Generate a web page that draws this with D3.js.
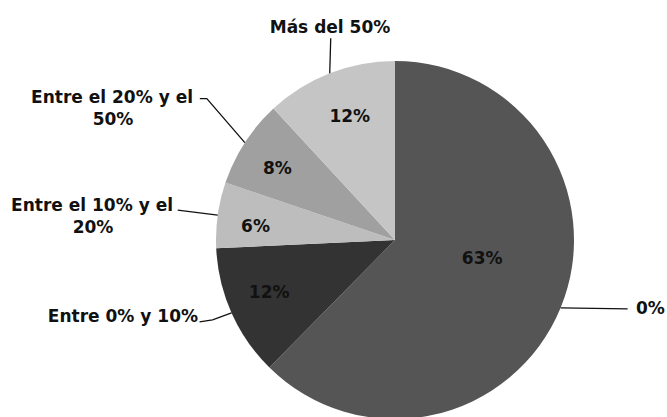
<!DOCTYPE html>
<html><head><meta charset="utf-8">
<script src="https://cdn.jsdelivr.net/npm/d3@7"></script>
<style>body{margin:0;background:#fff}svg{display:block}text{font-family:"DejaVu Sans","Open Sans",sans-serif;font-weight:bold;fill:#111}</style>
</head><body>
<svg id="c" width="667" height="417"></svg>
<script>
const categories = ["0%", "Entre 0% y 10%", "Entre el 10% y el 20%", "Entre el 20% y el 50%", "Más del 50%"];
const values = [63, 12, 6, 8, 12];
const valueLabels = ["63%", "12%", "6%", "8%", "12%"];
const labelLines = [["0%"], ["Entre 0% y 10%"], ["Entre el 10% y el", "20%"], ["Entre el 20% y el", "50%"], ["Más del 50%"]];
const colors = ["#555555", "#333333", "#bdbdbd", "#a0a0a0", "#c5c5c5"];

const svg = d3.select("#c");
const cx = 395, cy = 240, R = 179;
const g = svg.append("g").attr("transform", `translate(${cx},${cy})`);
const pie = d3.pie().sort(null).value(d => d)(values);
const arc = d3.arc().innerRadius(0).outerRadius(R);
g.selectAll("path.s").data(pie).join("path").attr("class","s")
  .attr("d", arc).attr("fill", (d,i) => colors[i]);

const FS = 17;
// small layout nudges for inside labels
const inShift = [[11,-13],[0,-4],[-3,5],[-2,3],[5,4]];
pie.forEach((d,i) => {
  const a = (d.startAngle + d.endAngle)/2;
  const f = (d.endAngle - d.startAngle) > Math.PI ? 0.46 : 0.77;
  const x = Math.sin(a)*R*f + inShift[i][0], y = -Math.cos(a)*R*f + inShift[i][1];
  g.append("text").attr("x", x).attr("y", y).attr("dy","0.35em")
    .attr("text-anchor","middle").attr("font-size", FS).text(valueLabels[i]);
});

// outer labels: leader path offsets (relative to arc point) & label anchors (relative to centre)
const layout = [
  {pts:[[67,1]], lx:241, ly:68, anchor:"start"},
  {pts:[[-19,7],[-32,9]], lx:-197, ly:76, anchor:"end"},
  {pts:[[-40,-5]], lx:-222, ly:-35, anchor:"end", second:-302},
  {pts:[[-38,-44],[-45,-44]], lx:-202, ly:-143, anchor:"end", second:-282},
  {pts:[[1,-35]], lx:-65, ly:-213, anchor:"middle"}
];
pie.forEach((d,i) => {
  const a = (d.startAngle + d.endAngle)/2;
  const x0 = Math.sin(a)*R, y0 = -Math.cos(a)*R;
  const L = layout[i];
  const pts = [[x0,y0]].concat(L.pts.map(p => [x0+p[0], y0+p[1]]));
  g.append("path").attr("d", d3.line()(pts)).attr("fill","none").attr("stroke","#111").attr("stroke-width",1.3);
  labelLines[i].forEach((t,k) => {
    const t2 = g.append("text").attr("font-size",FS).attr("y", L.ly + k*22).attr("dy","0.35em");
    if (k === 0) t2.attr("x", L.lx).attr("text-anchor", L.anchor);
    else t2.attr("x", L.second).attr("text-anchor","middle");
    t2.text(t);
  });
});
</script>
</body></html>
